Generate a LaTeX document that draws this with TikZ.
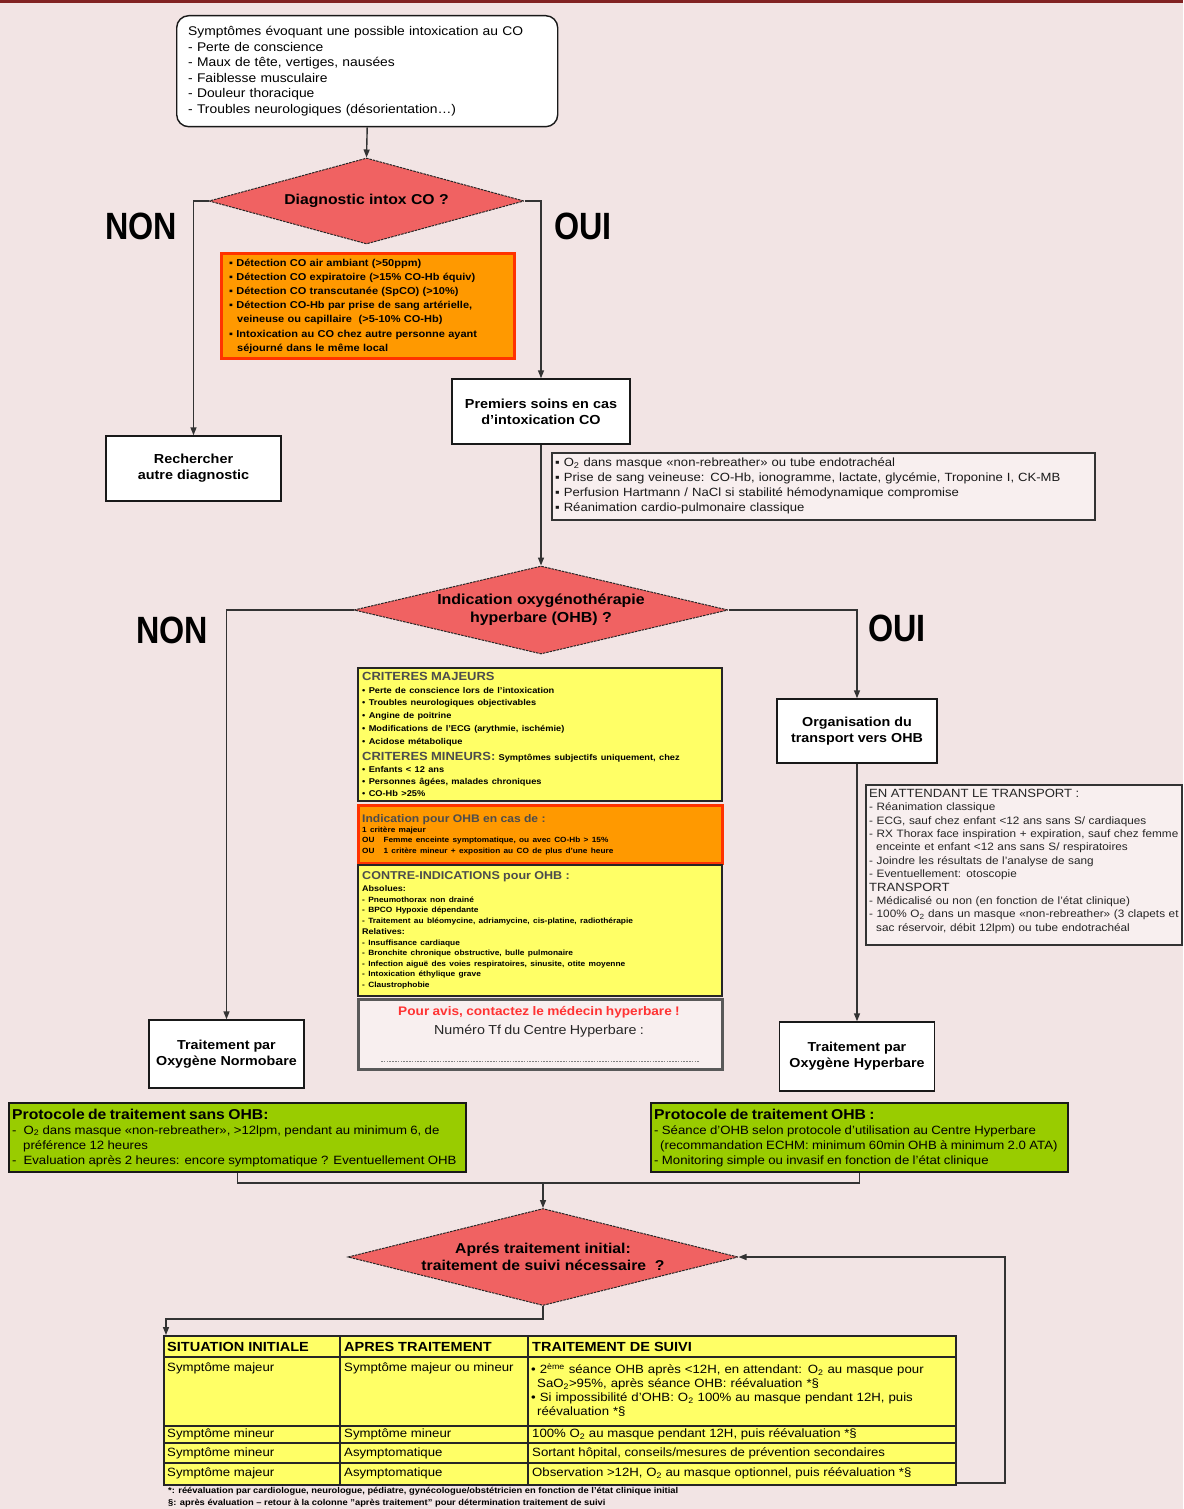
\documentclass[tikz,border=0pt]{standalone}
\usepackage{fontspec}
\setmainfont{Liberation Sans}[FakeStretch=1.1]
\newfontfamily\tallfont{Liberation Sans}[FakeStretch=0.85]
\usetikzlibrary{shapes.geometric,arrows.meta,calc}

\definecolor{bg}{RGB}{242,228,228}
\definecolor{dred}{RGB}{240,98,98}
\definecolor{orng}{RGB}{255,153,0}
\definecolor{ored}{RGB}{255,51,0}
\definecolor{ylw}{RGB}{255,255,102}
\definecolor{grn}{RGB}{153,204,0}
\definecolor{pale}{RGB}{248,239,239}
\definecolor{redtxt}{RGB}{255,51,51}
\definecolor{topbar}{RGB}{130,35,35}

\newcommand{\fs}[2]{\fontsize{#1}{#2}\selectfont}

\tikzset{
  plainbox/.style={draw=black!90, line width=1.4pt, fill=white, inner sep=0pt, align=center},
  infobox/.style={draw=black!80, line width=1.6pt, fill=pale, inner sep=0pt},
  orangebox/.style={draw=ored, line width=3pt, fill=orng, inner sep=0pt},
  yellowbox/.style={draw=black!85, line width=1.5pt, fill=ylw, inner sep=0pt},
  greenbox/.style={draw=black!90, line width=2.2pt, fill=grn, inner sep=0pt},
  contactbox/.style={draw=black!65, line width=3pt, fill=pale, inner sep=0pt},
  decide/.style={diamond, draw=black!85, line width=1pt, dash pattern=on 2.5pt off 1pt,
    fill=dred, inner sep=0pt, align=center},
  bigword/.style={inner sep=0pt, font=\tallfont\bfseries\fs{38}{40}},
  txt/.style={align=left, inner sep=0pt, text width=#1},
  wire/.style={draw=black!80, line width=1.4pt},
  conn/.style={wire, -{Triangle[length=8pt,width=6pt]}},
  gridline/.style={draw=black!85, line width=1.4pt},
  cell/.style={inner sep=0pt, anchor=west, font=\fs{12}{14}},
  headcell/.style={inner sep=0pt, anchor=west, font=\bfseries\fs{13.2}{14}}
}

\begin{document}
\begin{tikzpicture}[x=1pt,y=-1pt]
% background
\fill[bg] (0,0) rectangle (1183,1509);
\useasboundingbox (0,0) rectangle (1183,1509);
\fill[topbar] (0,0) rectangle (1183,3);

% ---------- top box ----------
\node[plainbox, rounded corners=12pt, anchor=north west, minimum width=381, minimum height=111] (sym) at (176,15) {};
\node[txt=375, anchor=west, font=\fs{12.6}{15.6}] (symt) at ([xshift=12pt]sym.west)
 {Symptômes évoquant une possible intoxication au CO\\- Perte de conscience\\- Maux de tête, vertiges, nausées\\- Faiblesse musculaire\\- Douleur thoracique\\- Troubles neurologiques (désorientation…)};

% ---------- diamond 1 ----------
\node[decide, aspect=3.66, minimum width=315, minimum height=86, font=\bfseries\fs{14.3}{17}] (d1) at (366.5,201) {Diagnostic intox CO ?};
\node[bigword] (non1) at (141,226) {NON};
\node[bigword] (oui1) at (583,226) {OUI};

% orange criteria box
\node[orangebox, anchor=north west, minimum width=293, minimum height=105] (crit) at (220,252) {};
\node[txt=290, anchor=west, font=\bfseries\fs{10}{14.2}] (critt) at ([xshift=9pt]crit.west)
 {▪ Détection CO air ambiant (>50ppm)\\
  ▪ Détection CO expiratoire (>15\% CO-Hb équiv)\\
  ▪ Détection CO transcutanée (SpCO) (>10\%)\\
  ▪ Détection CO-Hb par prise de sang artérielle,\\
  \hspace*{8pt}veineuse ou capillaire\ \ (>5-10\% CO-Hb)\\
  ▪ Intoxication au CO chez autre personne ayant\\
  \hspace*{8pt}séjourné dans le même local};

\node[plainbox, minimum width=175, minimum height=65, font=\bfseries\fs{13.1}{16}] (rech) at (193.5,468.5) {Rechercher\\autre diagnostic};
\node[plainbox, minimum width=178, minimum height=65, font=\bfseries\fs{13.1}{16}] (soins) at (541,411.5) {Premiers soins en cas\\d'intoxication CO};

% first aid bullets
\node[infobox, anchor=north west, minimum width=543, minimum height=67] (first) at (551,452) {};
\node[txt=540, anchor=west, font=\fs{11.9}{15}, text=black!90] (firstt) at ([xshift=4pt]first.west)
 {▪ O\textsubscript{2} dans masque «non-rebreather» ou tube endotrachéal\\
  ▪ Prise de sang veineuse: CO-Hb, ionogramme, lactate, glycémie, Troponine I, CK-MB\\
  ▪ Perfusion Hartmann / NaCl si stabilité hémodynamique compromise\\
  ▪ Réanimation cardio-pulmonaire classique};

% ---------- diamond 2 ----------
\node[decide, aspect=4.25, minimum width=374, minimum height=88, font=\bfseries\fs{14.5}{18}] (d2) at (541,610) {Indication oxygénothérapie\\hyperbare (OHB) ?};
\node[bigword] (non2) at (172,630) {NON};
\node[bigword] (oui2) at (897,628) {OUI};

\node[plainbox, minimum width=160, minimum height=64, font=\bfseries\fs{13}{16}] (orga) at (857,731) {Organisation du\\transport vers OHB};

% transport box
\node[infobox, anchor=north west, minimum width=316, minimum height=160] (trans) at (865,784) {};
\node[txt=320, anchor=west, text=black!85, font=\fs{10.7}{13.4}] (transt) at ([xshift=4pt,yshift=3.5pt]trans.west)
 {{\fs{11.9}{13.4}EN ATTENDANT LE TRANSPORT :\par}
  {\fs{10.7}{13.4}- Réanimation classique\\
  - ECG, sauf chez enfant <12 ans sans S/ cardiaques\\
  - RX Thorax face inspiration + expiration, sauf chez femme\\
  \hspace*{7pt}enceinte et enfant <12 ans sans S/ respiratoires\\
  - Joindre les résultats de l'analyse de sang\\
  - Eventuellement: otoscopie\par}
  {\fs{11.9}{13.4}TRANSPORT\par}
  {\fs{10.7}{13.4}- Médicalisé ou non (en fonction de l'état clinique)\\
  - 100\% O\textsubscript{2} dans un masque «non-rebreather» (3 clapets et\\
  \hspace*{7pt}sac réservoir, débit 12lpm) ou tube endotrachéal\par}};

% criteria column
\node[yellowbox, anchor=north west, minimum width=364, minimum height=133] (maj) at (357,667) {};
\node[txt=370, anchor=west] (majt) at ([xshift=5pt]maj.west)
 {{\color{black!70}\bfseries\fs{11.8}{13}CRITERES MAJEURS\par}
  {\bfseries\fs{8.4}{12.7}• Perte de conscience lors de l'intoxication\\
  • Troubles neurologiques objectivables\\
  • Angine de poitrine\\
  • Modifications de l'ECG (arythmie, ischémie)\\
  • Acidose métabolique\par}
  {\bfseries\fs{11.8}{16}\textcolor{black!70}{CRITERES MINEURS:} \fs{8.4}{16}Symptômes subjectifs uniquement, chez\par}
  {\bfseries\fs{8.4}{12}• Enfants < 12 ans\\
  • Personnes âgées, malades chroniques\\
  • CO-Hb >25\%\par}};

\node[orangebox, anchor=north west, minimum width=364, minimum height=58] (ind) at (357,804) {};
\node[txt=370, anchor=west] (indt) at ([xshift=5pt]ind.west)
 {{\color{black!70}\bfseries\fs{11}{13}Indication pour OHB en cas de :\par}
  {\bfseries\fs{7.5}{10.4}1 critère majeur\\
  OU\hspace{9pt}Femme enceinte symptomatique, ou avec CO-Hb > 15\%\\
  OU\hspace{9pt}1 critère mineur + exposition au CO de plus d'une heure\par}};

\node[yellowbox, anchor=north west, minimum width=364, minimum height=131] (contre) at (357,864) {};
\node[txt=370, anchor=west] (contret) at ([xshift=5pt]contre.west)
 {{\color{black!70}\bfseries\fs{11.4}{13}CONTRE-INDICATIONS pour OHB :\par}
  {\bfseries\fs{8.2}{12}Absolues:\par}
  {\bfseries\fs{7.6}{10.5}- Pneumothorax non drainé\\
  - BPCO Hypoxie dépendante\\
  - Traitement au bléomycine, adriamycine, cis-platine, radiothérapie\par}
  {\bfseries\fs{8.2}{11.5}Relatives:\par}
  {\bfseries\fs{7.6}{10.5}- Insuffisance cardiaque\\
  - Bronchite chronique obstructive, bulle pulmonaire\\
  - Infection aiguë des voies respiratoires, sinusite, otite moyenne\\
  - Intoxication éthylique grave\\
  - Claustrophobie\par}};

\node[contactbox, anchor=north west, minimum width=364, minimum height=70] (contact) at (357,998) {};
\node[txt=362, align=center, anchor=north] (contactt) at (539,1006)
 {{\color{redtxt}\bfseries\fs{12.4}{14}Pour avis, contactez le médecin hyperbare !\par}
  {\color{black!85}\fs{13}{19}Numéro Tf du Centre Hyperbare :\par}};
\draw[black!50, line width=1pt, dash pattern=on 1.6pt off 1.2pt] (381,1061) -- (700,1061);

% treatment boxes
\node[plainbox, minimum width=155, minimum height=68, font=\bfseries\fs{13}{16}] (normo) at (226.5,1054) {Traitement par\\Oxygène Normobare};
\node[plainbox, minimum width=155, minimum height=69, font=\bfseries\fs{13}{16}] (hyper) at (857,1056.5) {Traitement par\\Oxygène Hyperbare};

% protocol boxes
\node[greenbox, anchor=north west, minimum width=457, minimum height=69] (protoL) at (8,1102) {};
\node[txt=470, anchor=west] (protoLt) at ([xshift=4pt]protoL.west)
 {{\bfseries\fs{14.3}{15}Protocole de traitement sans OHB:\par}
  {\fs{12}{15}-\hspace{7pt}O\textsubscript{2} dans masque «non-rebreather», >12lpm, pendant au minimum 6, de\\
  \hspace*{11pt}préférence 12 heures\\
  -\hspace{7pt}Evaluation après 2 heures: encore symptomatique ? Eventuellement OHB\par}};

\node[greenbox, anchor=north west, minimum width=417, minimum height=69] (protoR) at (650,1102) {};
\node[txt=430, anchor=west] (protoRt) at ([xshift=4pt]protoR.west)
 {{\bfseries\fs{14.3}{15}Protocole de traitement OHB :\par}
  {\fs{12}{15}- Séance d'OHB selon protocole d'utilisation au Centre Hyperbare\\
  \hspace*{6pt}(recommandation ECHM: minimum 60min OHB à minimum 2.0 ATA)\\
  - Monitoring simple ou invasif en fonction de l'état clinique\par}};

% ---------- diamond 3 ----------
\coordinate (merge) at (543,1183);
\node[decide, aspect=4.02, minimum width=390, minimum height=97, font=\bfseries\fs{14.3}{16.5}] (d3) at (543,1257) {Aprés traitement initial:\\traitement de suivi nécessaire\ \ ?};

% ---------- table ----------
\node[yellowbox, line width=1.8pt, anchor=north west, minimum width=792, minimum height=149] (tbl) at (163,1335) {};
\draw[gridline] (340,1335) -- (340,1484);
\draw[gridline] (528,1335) -- (528,1484);
\draw[gridline] (163,1357) -- (955,1357);
\draw[gridline] (163,1426) -- (955,1426);
\draw[gridline] (163,1443) -- (955,1443);
\draw[gridline] (163,1463) -- (955,1463);

\node[headcell] (h1) at (167,1346.5) {SITUATION INITIALE};
\node[headcell] (h2) at (344,1346.5) {APRES TRAITEMENT};
\node[headcell] (h3) at (532,1346.5) {TRAITEMENT DE SUIVI};

\node[cell] (c11) at (167,1368) {Symptôme majeur};
\node[cell] (c12) at (344,1368) {Symptôme majeur ou mineur};
\node[txt=425, anchor=north west, font=\fs{12}{14}] (c13) at (531,1363)
 {• 2\textsuperscript{ème} séance OHB après <12H, en attendant: O\textsubscript{2} au masque pour\\
  \hspace*{6pt}SaO\textsubscript{2}>95\%, après séance OHB: réévaluation *§\\
  • Si impossibilité d'OHB: O\textsubscript{2} 100\% au masque pendant 12H, puis\\
  \hspace*{6pt}réévaluation *§};

\node[cell] (c21) at (167,1434.5) {Symptôme mineur};
\node[cell] (c22) at (344,1434.5) {Symptôme mineur};
\node[cell] (c23) at (532,1434.5) {100\% O\textsubscript{2} au masque pendant 12H, puis réévaluation *§};

\node[cell] (c31) at (167,1453) {Symptôme mineur};
\node[cell] (c32) at (344,1453) {Asymptomatique};
\node[cell] (c33) at (532,1453) {Sortant hôpital, conseils/mesures de prévention secondaires};

\node[cell] (c41) at (167,1473.5) {Symptôme majeur};
\node[cell] (c42) at (344,1473.5) {Asymptomatique};
\node[cell] (c43) at (532,1473.5) {Observation >12H, O\textsubscript{2} au masque optionnel, puis réévaluation *§};

\node[inner sep=0pt, anchor=west, font=\bfseries\fs{8.5}{9}] (fn1) at (168,1491.5) {*: réévaluation par cardiologue, neurologue, pédiatre, gynécologue/obstétricien en fonction de l'état clinique initial};
\node[inner sep=0pt, anchor=west, font=\bfseries\fs{8.5}{9}] (fn2) at (168,1503) {§: après évaluation – retour à la colonne "après traitement" pour détermination traitement de suivi};

% ---------- connectors ----------
\draw[conn] (sym.south) -- (d1.north);
\draw[conn] (d1.west) -| (rech.north);
\draw[conn] (d1.east) -| (soins.north);
\draw[conn] (soins.south) -- (d2.north);
\draw[conn] (d2.west) -| (normo.north);
\draw[conn] (d2.east) -| (orga.north);
\draw[conn] (orga.south) -- (hyper.north);
\draw[wire] (protoL.south) |- (merge);
\draw[wire] (protoR.south) |- (merge);
\draw[conn] (merge) -- (d3.north);
\draw[conn] (d3.south) -- ++(0,13) -| ([xshift=3pt]tbl.north west);
\draw[conn] ([yshift=3pt]tbl.south east) -- ++(48,0) |- (d3.east);
\end{tikzpicture}
\end{document}
